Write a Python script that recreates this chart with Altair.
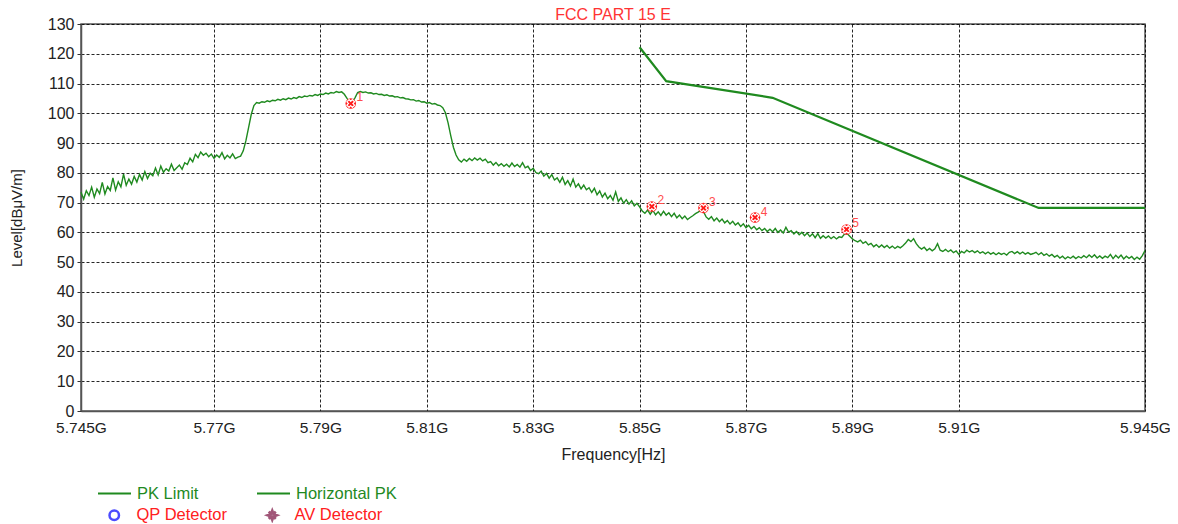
import altair as alt
import pandas as pd

FONT = "Liberation Sans"
GREEN = "#1f8a1f"

# ---- measured trace (Horizontal PK), 0.5 MHz steps from 5745 MHz ----
lvl_5745 = [73.5, 71.2, 74.0, 72.4, 75.2, 71.8, 74.6, 73.0, 76.8, 72.9,
            75.4, 74.1, 78.3, 74.2, 77.0, 75.3, 79.6, 75.8, 77.9, 76.2]
lvl_5755 = [78.8, 76.9, 79.5, 77.6, 80.4, 78.1, 79.9, 79.0, 81.6, 79.3,
            82.3, 80.2, 81.4, 80.6, 82.9, 80.8, 81.7, 82.6, 81.2, 83.4]
lvl_5765 = [82.8, 84.9, 83.7, 86.2, 85.1, 87.0, 85.9, 86.6, 85.4, 86.3,
            84.9, 86.0, 85.2, 86.8, 84.7, 85.9, 85.0, 86.4, 84.8, 85.3]
lvl_5775 = [85.6, 87.4, 90.8, 95.2, 99.6, 102.6, 103.6, 103.4, 103.9, 103.7,
            104.2, 103.9, 104.4, 104.2, 104.7, 104.4, 104.9, 104.6, 105.1, 104.8]
lvl_5785 = [105.3, 105.0, 105.6, 105.3, 105.8, 105.6, 106.0, 105.8, 106.3, 106.0,
            106.5, 106.3, 106.8, 106.5, 107.0, 106.8, 107.3, 107.0, 107.2, 106.4]
lvl_5795 = [105.0, 104.0, 103.9, 105.2, 107.0, 107.3, 107.0, 107.2, 106.8, 106.9,
            106.5, 106.7, 106.3, 106.4, 106.0, 106.2, 105.8, 105.9, 105.5, 105.6]
lvl_5805 = [105.2, 105.3, 104.9, 104.8, 104.5, 104.6, 104.1, 104.3, 103.8, 103.9,
            103.4, 103.6, 103.1, 103.3, 102.8, 102.6, 101.9, 100.2, 96.8, 92.5]
lvl_5815 = [88.6, 86.0, 84.4, 83.6, 84.6, 83.9, 84.8, 84.1, 85.0, 84.3,
            84.9, 84.0, 84.6, 83.4, 83.8, 82.6, 83.5, 82.4, 83.1, 82.2]
lvl_5825 = [82.9, 82.0, 83.3, 82.1, 82.8, 81.9, 83.4, 81.7, 82.2, 80.8,
            81.5, 80.1, 79.7, 80.6, 78.9, 79.8, 78.2, 79.4, 77.6, 78.3]
lvl_5835 = [76.8, 78.5, 76.1, 77.4, 75.6, 77.9, 75.2, 76.3, 74.6, 75.9,
            74.3, 75.0, 73.4, 74.8, 72.6, 73.9, 71.9, 73.2, 71.3, 72.4]
lvl_5845 = [70.8, 73.6, 70.4, 71.6, 69.8, 71.0, 69.5, 70.6, 68.9, 69.8,
            68.6, 67.2, 66.4, 67.5, 66.1, 67.4, 65.9, 66.9, 65.7, 67.1]
lvl_5855 = [65.8, 66.6, 65.3, 66.4, 64.9, 65.8, 64.6, 65.5, 64.3, 65.0,
            65.6, 66.3, 66.8, 67.4, 67.0, 65.2, 64.4, 65.3, 63.9, 64.8]
lvl_5865 = [63.6, 64.5, 63.2, 64.0, 62.8, 63.7, 62.5, 63.2, 62.0, 62.9,
            61.6, 62.4, 61.2, 62.0, 60.9, 61.6, 60.6, 61.3, 60.3, 61.1]
lvl_5875 = [60.2, 61.3, 60.0, 60.8, 59.8, 61.7, 60.1, 60.6, 59.5, 60.3,
            59.2, 60.0, 58.9, 59.8, 58.6, 59.5, 58.2, 59.6, 58.0, 58.9]
lvl_5885 = [58.1, 58.8, 57.9, 58.6, 57.8, 58.5, 58.3, 59.4, 59.6, 58.7,
            57.8, 57.2, 56.8, 57.4, 56.3, 56.9, 55.8, 56.3, 55.2, 55.9]
lvl_5895 = [55.0, 55.8, 54.9, 55.6, 54.7, 55.4, 54.6, 55.3, 54.8, 55.5,
            56.4, 57.6, 56.9, 57.9, 56.2, 55.1, 54.4, 55.0, 53.9, 54.6]
lvl_5905 = [53.8, 54.5, 56.2, 54.0, 53.6, 54.3, 53.5, 54.1, 53.2, 53.8,
            52.6, 53.6, 53.1, 54.0, 53.4, 53.9, 53.2, 53.8, 53.0, 53.5]
lvl_5915 = [52.8, 53.4, 52.7, 53.2, 52.5, 53.1, 52.6, 53.0, 52.4, 53.3,
            53.6, 52.9, 53.5, 52.8, 53.4, 52.7, 53.2, 52.6, 52.9, 53.3]
lvl_5925 = [52.5, 53.2, 52.3, 52.8, 52.0, 52.6, 51.7, 52.3, 51.4, 52.0,
            51.1, 51.8, 51.3, 52.0, 51.2, 51.9, 51.4, 52.2, 51.5, 52.4]
lvl_5935 = [51.6, 52.5, 51.4, 52.1, 51.3, 52.0, 51.5, 52.6, 51.2, 52.3,
            51.4, 52.4, 51.1, 52.0, 51.3, 51.9, 50.9, 51.7, 51.0, 52.2, 53.9]

trace_levels = (lvl_5745 + lvl_5755 + lvl_5765 + lvl_5775 + lvl_5785 + lvl_5795 +
                lvl_5805 + lvl_5815 + lvl_5825 + lvl_5835 + lvl_5845 + lvl_5855 +
                lvl_5865 + lvl_5875 + lvl_5885 + lvl_5895 + lvl_5905 + lvl_5915 +
                lvl_5925 + lvl_5935)
trace_start_mhz = 5745.0
trace_step_mhz = 0.5
trace_freq = [(trace_start_mhz + i * trace_step_mhz) / 1000.0 for i in range(len(trace_levels))]

# ---- limit line (PK Limit) ----
limit_freq = [5.850, 5.855, 5.875, 5.925, 5.945]
limit_level = [122.2, 110.8, 105.2, 68.2, 68.2]

# ---- markers ----
marker_freq = [5.7957, 5.8523, 5.8620, 5.8717, 5.8889]
marker_level = [103.3, 68.7, 68.2, 65.0, 61.0]
marker_label = ["1", "2", "3", "4", "5"]

# ---- axes ----
x_ticks = [5.745, 5.77, 5.79, 5.81, 5.83, 5.85, 5.87, 5.89, 5.91, 5.945]
y_ticks = [0, 10, 20, 30, 40, 50, 60, 70, 80, 90, 100, 110, 120, 130]

series_names = ["PK Limit", "Horizontal PK"]
detector_names = ["QP Detector", "AV Detector"]

trace_df = pd.DataFrame({"f": trace_freq, "level": trace_levels, "series": "Horizontal PK"})
limit_df = pd.DataFrame({"f": limit_freq, "level": limit_level, "series": "PK Limit"})
marker_df = pd.DataFrame({"f": marker_freq, "level": marker_level, "label": marker_label})
det_df = pd.DataFrame({"f": [None, None], "level": [None, None], "detector": detector_names})

x_enc = alt.X("f:Q", scale=alt.Scale(domain=[5.745, 5.945], nice=False, zero=False),
              axis=alt.Axis(values=x_ticks, labelExpr="datum.value + 'G'",
                            title="Frequency[Hz]", labelOverlap=False, labelFlush=False,
                            tickSize=0, labelPadding=9, titlePadding=11,
                            labelFontSize=15.5, titleFontSize=16))
y_enc = alt.Y("level:Q", scale=alt.Scale(domain=[0, 130], nice=False, zero=True),
              axis=alt.Axis(values=y_ticks, title="Level[dBμV/m]", tickSize=4,
                            labelOverlap=False, labelPadding=3, titlePadding=23,
                            labelFontSize=16, titleFontSize=15))

color_enc = alt.Color("series:N",
                      scale=alt.Scale(domain=series_names, range=[GREEN, GREEN]),
                      legend=alt.Legend(orient="none", legendX=16, legendY=452,
                                        direction="horizontal", title=None,
                                        symbolType="stroke", symbolSize=1089,
                                        symbolStrokeWidth=2, labelColor=GREEN,
                                        labelFont=FONT, labelFontSize=16.5, labelOffset=5,
                                        labelLimit=300,
                                        columnPadding=15, gridAlign="all", padding=0))

trace = alt.Chart(trace_df).mark_line(strokeWidth=1.4).encode(
    x=x_enc, y=y_enc, color=color_enc, order=alt.Order("f:Q"))
limit = alt.Chart(limit_df).mark_line(strokeWidth=2.2).encode(
    x=x_enc, y=y_enc, color=color_enc, order=alt.Order("f:Q"))

star = ("M0,-1L0.22,-0.4L0.7,-0.7L0.4,-0.22L1,0L0.4,0.22L0.7,0.7L0.22,0.4"
        "L0,1L-0.22,0.4L-0.7,0.7L-0.4,0.22L-1,0L-0.4,-0.22L-0.7,-0.7L-0.22,-0.4Z")
det_legend = alt.Legend(orient="none", legendX=25, legendY=483, direction="horizontal",
                        title=None, symbolSize=90, symbolStrokeWidth=2.5,
                        labelColor="#ff2020", labelFont=FONT, labelFontSize=16.5,
                        labelOffset=14, labelLimit=300,
                        columnPadding=34, gridAlign="all", padding=0)
detectors = alt.Chart(det_df).mark_point(filled=True, size=90).encode(
    x=x_enc, y=y_enc,
    shape=alt.Shape("detector:N", scale=alt.Scale(domain=detector_names, range=["circle", star]),
                    legend=det_legend),
    fill=alt.Fill("detector:N", scale=alt.Scale(domain=detector_names, range=["transparent", "#7a1040"]),
                  legend=det_legend),
    stroke=alt.Stroke("detector:N", scale=alt.Scale(domain=detector_names, range=["#0000ff", "#7a1040"]),
                      legend=det_legend),
)

mk_base = alt.Chart(marker_df).encode(x=x_enc, y=y_enc)
mk_dot = mk_base.mark_point(filled=True, shape="circle", size=110, color="#ff1a1a", opacity=1)
mk_x = mk_base.mark_point(filled=False, shape="cross", angle=45, size=60, color="white",
                          strokeWidth=1.2, opacity=1)
mk_txt = mk_base.mark_text(dx=9, dy=-6, fontSize=12, font=FONT, color="#ff4d4d").encode(text="label:N")

chart = alt.layer(trace, limit, detectors, mk_dot, mk_x, mk_txt).properties(
    width=1064, height=387,
    autosize=alt.AutoSizeParams(type="none"),
    padding={"left": 73, "top": 16, "right": 25, "bottom": 112},
    title=alt.TitleParams("FCC PART 15 E", color="#ff3333", fontSize=16, font=FONT,
                          fontWeight="normal", offset=-7, anchor="middle", frame="group"),
).configure_view(
    stroke="#555", strokeWidth=1.5
).configure_axis(
    grid=True, gridColor="#000", gridDash=[3, 2], gridWidth=1, gridOpacity=0.85,
    domainColor="#555", domainWidth=1.5, tickColor="#333",
    labelFont=FONT, labelColor="#222",
    titleFont=FONT, titleFontWeight="normal", titleColor="#222",
).configure_legend(
    labelFont=FONT
)

chart.save("out.html", embed_options={"renderer": "svg", "actions": False})
